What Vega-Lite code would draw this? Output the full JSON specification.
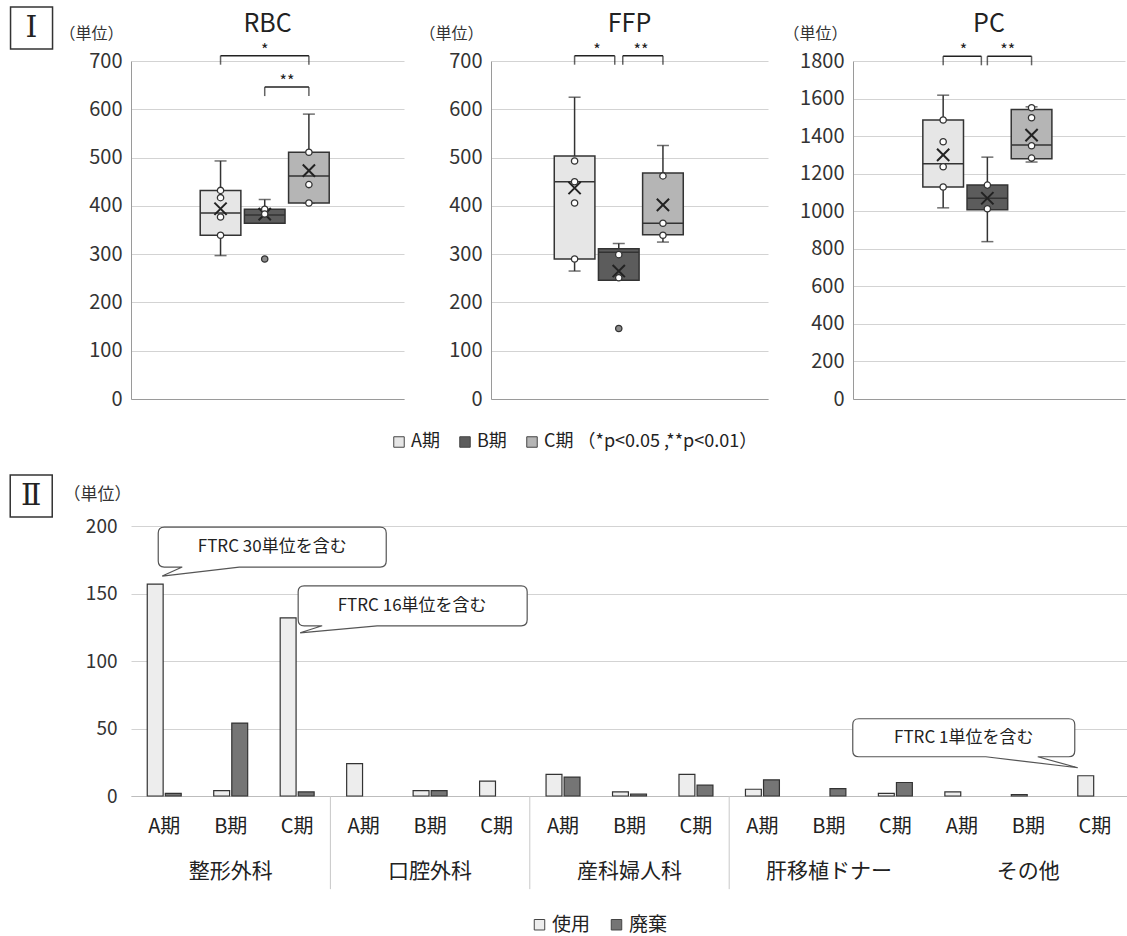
{
  "$schema": "https://vega.github.io/schema/vega-lite/v6.json",
  "padding": {"left": 7, "top": 4, "right": 0, "bottom": 0},
  "background": "white",
  "datasets": {
    "boxes": [
      {"product": "RBC", "period": "A期", "min": 297, "q1": 339, "median": 385, "q3": 432, "max": 493, "mean": 394},
      {"product": "RBC", "period": "B期", "min": 364, "q1": 364, "median": 381, "q3": 393, "max": 413, "mean": 383},
      {"product": "RBC", "period": "C期", "min": 406, "q1": 406, "median": 462, "q3": 511, "max": 590, "mean": 473},
      {"product": "FFP", "period": "A期", "min": 265, "q1": 290, "median": 450, "q3": 503, "max": 625, "mean": 437},
      {"product": "FFP", "period": "B期", "min": 246, "q1": 246, "median": 304, "q3": 311, "max": 322, "mean": 265},
      {"product": "FFP", "period": "C期", "min": 325, "q1": 340, "median": 364, "q3": 468, "max": 525, "mean": 402},
      {"product": "PC", "period": "A期", "min": 1018, "q1": 1129, "median": 1253, "q3": 1486, "max": 1618, "mean": 1300},
      {"product": "PC", "period": "B期", "min": 838, "q1": 1008, "median": 1069, "q3": 1139, "max": 1288, "mean": 1069},
      {"product": "PC", "period": "C期", "min": 1262, "q1": 1279, "median": 1353, "q3": 1542, "max": 1556, "mean": 1405}
    ],
    "points": [
      {"product": "RBC", "period": "A期", "value": 432, "kind": "inner"},
      {"product": "RBC", "period": "A期", "value": 417, "kind": "inner"},
      {"product": "RBC", "period": "A期", "value": 377, "kind": "inner"},
      {"product": "RBC", "period": "A期", "value": 339, "kind": "inner"},
      {"product": "RBC", "period": "B期", "value": 393, "kind": "inner"},
      {"product": "RBC", "period": "B期", "value": 383, "kind": "inner"},
      {"product": "RBC", "period": "B期", "value": 290, "kind": "outlier"},
      {"product": "RBC", "period": "C期", "value": 511, "kind": "inner"},
      {"product": "RBC", "period": "C期", "value": 444, "kind": "inner"},
      {"product": "RBC", "period": "C期", "value": 406, "kind": "inner"},
      {"product": "FFP", "period": "A期", "value": 493, "kind": "inner"},
      {"product": "FFP", "period": "A期", "value": 450, "kind": "inner"},
      {"product": "FFP", "period": "A期", "value": 406, "kind": "inner"},
      {"product": "FFP", "period": "A期", "value": 290, "kind": "inner"},
      {"product": "FFP", "period": "B期", "value": 299, "kind": "inner"},
      {"product": "FFP", "period": "B期", "value": 251, "kind": "inner"},
      {"product": "FFP", "period": "B期", "value": 146, "kind": "outlier"},
      {"product": "FFP", "period": "C期", "value": 462, "kind": "inner"},
      {"product": "FFP", "period": "C期", "value": 364, "kind": "inner"},
      {"product": "FFP", "period": "C期", "value": 339, "kind": "inner"},
      {"product": "PC", "period": "A期", "value": 1486, "kind": "inner"},
      {"product": "PC", "period": "A期", "value": 1370, "kind": "inner"},
      {"product": "PC", "period": "A期", "value": 1237, "kind": "inner"},
      {"product": "PC", "period": "A期", "value": 1129, "kind": "inner"},
      {"product": "PC", "period": "B期", "value": 1139, "kind": "inner"},
      {"product": "PC", "period": "B期", "value": 1013, "kind": "inner"},
      {"product": "PC", "period": "C期", "value": 1551, "kind": "inner"},
      {"product": "PC", "period": "C期", "value": 1498, "kind": "inner"},
      {"product": "PC", "period": "C期", "value": 1349, "kind": "inner"},
      {"product": "PC", "period": "C期", "value": 1283, "kind": "inner"}
    ],
    "sig": [
      {"product": "RBC", "from": "A期", "to": "C期", "label": "*", "level": 711},
      {"product": "RBC", "from": "B期", "to": "C期", "label": "**", "level": 646},
      {"product": "FFP", "from": "A期", "to": "B期", "label": "*", "level": 711},
      {"product": "FFP", "from": "B期", "to": "C期", "label": "**", "level": 711},
      {"product": "PC", "from": "A期", "to": "B期", "label": "*", "level": 1825},
      {"product": "PC", "from": "B期", "to": "C期", "label": "**", "level": 1825}
    ],
    "bars": [
      {"dept": "整形外科", "period": "A期", "type": "使用", "value": 157},
      {"dept": "整形外科", "period": "A期", "type": "廃棄", "value": 2},
      {"dept": "整形外科", "period": "B期", "type": "使用", "value": 4},
      {"dept": "整形外科", "period": "B期", "type": "廃棄", "value": 54},
      {"dept": "整形外科", "period": "C期", "type": "使用", "value": 132},
      {"dept": "整形外科", "period": "C期", "type": "廃棄", "value": 3},
      {"dept": "口腔外科", "period": "A期", "type": "使用", "value": 24},
      {"dept": "口腔外科", "period": "A期", "type": "廃棄", "value": 0},
      {"dept": "口腔外科", "period": "B期", "type": "使用", "value": 4},
      {"dept": "口腔外科", "period": "B期", "type": "廃棄", "value": 4},
      {"dept": "口腔外科", "period": "C期", "type": "使用", "value": 11},
      {"dept": "口腔外科", "period": "C期", "type": "廃棄", "value": 0},
      {"dept": "産科婦人科", "period": "A期", "type": "使用", "value": 16},
      {"dept": "産科婦人科", "period": "A期", "type": "廃棄", "value": 14},
      {"dept": "産科婦人科", "period": "B期", "type": "使用", "value": 3},
      {"dept": "産科婦人科", "period": "B期", "type": "廃棄", "value": 1.5},
      {"dept": "産科婦人科", "period": "C期", "type": "使用", "value": 16},
      {"dept": "産科婦人科", "period": "C期", "type": "廃棄", "value": 8},
      {"dept": "肝移植ドナー", "period": "A期", "type": "使用", "value": 5},
      {"dept": "肝移植ドナー", "period": "A期", "type": "廃棄", "value": 12},
      {"dept": "肝移植ドナー", "period": "B期", "type": "使用", "value": 0},
      {"dept": "肝移植ドナー", "period": "B期", "type": "廃棄", "value": 5.5},
      {"dept": "肝移植ドナー", "period": "C期", "type": "使用", "value": 2},
      {"dept": "肝移植ドナー", "period": "C期", "type": "廃棄", "value": 10},
      {"dept": "その他", "period": "A期", "type": "使用", "value": 3},
      {"dept": "その他", "period": "A期", "type": "廃棄", "value": 0},
      {"dept": "その他", "period": "B期", "type": "使用", "value": 1},
      {"dept": "その他", "period": "B期", "type": "廃棄", "value": 0},
      {"dept": "その他", "period": "C期", "type": "使用", "value": 15},
      {"dept": "その他", "period": "C期", "type": "廃棄", "value": 0}
    ],
    "callouts": [
      {"dept": "整形外科", "period": "A期", "value": 157, "note": "FTRC 30単位を含む"},
      {"dept": "整形外科", "period": "C期", "value": 132, "note": "FTRC 16単位を含む"},
      {"dept": "その他", "period": "C期", "value": 15, "note": "FTRC 1単位を含む"}
    ]
  },
  "vconcat": [
    {
      "hconcat": [
        {
          "width": 273, "height": 338,
          "title": {"text": "RBC", "fontSize": 25, "frame": "group", "offset": -33, "anchor": "middle"},
          "layer": [
            {"data": {"name": "boxes"}, "transform": [{"filter": "datum.product == 'RBC'"}],
             "mark": {"type": "rule", "stroke": "#333", "strokeWidth": 1.5},
             "encoding": {
               "x": {"field": "period", "type": "nominal", "scale": {"domain": ["_l", "A期", "B期", "C期", "_r"], "paddingInner": 0.08, "paddingOuter": 0.63, "align": 0.45}, "axis": {"labels": false, "title": null, "grid": false, "domain": true}},
               "y": {"field": "min", "type": "quantitative", "scale": {"domain": [0, 700], "nice": false}, "axis": {"values": [0, 100, 200, 300, 400, 500, 600, 700], "tickCount": 20, "format": "d", "labelOverlap": false, "title": "（単位）", "titleAngle": 0, "titleAlign": "right", "titleBaseline": "alphabetic", "titleX": -8, "titleY": -23}},
               "y2": {"field": "max"}}},
            {"data": {"name": "boxes"}, "transform": [{"filter": "datum.product == 'RBC'"}, {"fold": ["min", "max"], "as": ["stat", "val"]}],
             "mark": {"type": "tick", "orient": "horizontal", "size": 12, "thickness": 1.5, "color": "#333"},
             "encoding": {"x": {"field": "period", "type": "nominal"}, "y": {"field": "val", "type": "quantitative"}}},
            {"data": {"name": "boxes"}, "transform": [{"filter": "datum.product == 'RBC'"}],
             "mark": {"type": "bar", "stroke": "#333", "strokeWidth": 1.5},
             "encoding": {"x": {"field": "period", "type": "nominal"}, "y": {"field": "q1", "type": "quantitative"}, "y2": {"field": "q3"},
               "fill": {"field": "period", "type": "nominal", "scale": {"domain": ["A期", "B期", "C期"], "range": ["#e6e6e6", "#5c5c5c", "#b5b5b5"]},
                 "legend": {"orient": "none", "legendX": 259, "legendY": 372, "direction": "horizontal", "title": null, "labelExpr": "datum.label == 'C期' ? 'C期 （*p<0.05 ,**p<0.01）' : datum.label"}}}},
            {"data": {"name": "boxes"}, "transform": [{"filter": "datum.product == 'RBC'"}],
             "mark": {"type": "bar", "fill": "transparent", "stroke": "#333", "strokeWidth": 1.5},
             "encoding": {"x": {"field": "period", "type": "nominal"}, "y": {"field": "median", "type": "quantitative"}, "y2": {"field": "median"}}},
            {"data": {"name": "boxes"}, "transform": [{"filter": "datum.product == 'RBC'"}],
             "mark": {"type": "point", "shape": "M-1,-1L1,1M-1,1L1,-1", "size": 150, "filled": false, "stroke": "#222", "strokeWidth": 2, "opacity": 1},
             "encoding": {"x": {"field": "period", "type": "nominal"}, "y": {"field": "mean", "type": "quantitative"}}},
            {"data": {"name": "points"}, "transform": [{"filter": "datum.product == 'RBC'"}],
             "mark": {"type": "point", "shape": "circle", "size": 40, "filled": true, "stroke": "#333", "strokeWidth": 1.3, "opacity": 1},
             "encoding": {"x": {"field": "period", "type": "nominal"}, "y": {"field": "value", "type": "quantitative"},
               "fill": {"condition": {"test": "datum.kind == 'outlier'", "value": "#8c8c8c"}, "value": "#ffffff"}}},
            {"data": {"name": "sig"}, "transform": [{"filter": "datum.product == 'RBC' && datum.to != 'B期'"}],
             "mark": {"type": "rule", "stroke": "#222", "strokeWidth": 1.5},
             "encoding": {"x": {"field": "from", "type": "nominal"}, "x2": {"field": "to"}, "y": {"field": "level", "type": "quantitative"}}},
            {"data": {"name": "sig"}, "transform": [{"filter": "datum.product == 'RBC'"}, {"fold": ["from", "to"], "as": ["end", "cat"]}, {"filter": "!(datum.end == 'to' && datum.cat == 'B期')"}],
             "mark": {"type": "tick", "orient": "vertical", "size": 9, "thickness": 1.5, "color": "#222", "yOffset": 4.5},
             "encoding": {"x": {"field": "cat", "type": "nominal"}, "y": {"field": "level", "type": "quantitative"}}},
            {"data": {"name": "sig"}, "transform": [{"filter": "datum.product == 'RBC' && datum.from == 'A期' && datum.to == 'C期'"}],
             "mark": {"type": "text", "fontSize": 16, "fill": "#222", "baseline": "alphabetic"},
             "encoding": {"x": {"datum": "B期", "type": "nominal"}, "y": {"field": "level", "type": "quantitative"}, "text": {"field": "label"}}},
            {"data": {"name": "sig"}, "transform": [{"filter": "datum.product == 'RBC' && !(datum.from == 'A期' && datum.to == 'C期')"}],
             "mark": {"type": "text", "fontSize": 16, "fill": "#222", "baseline": "alphabetic", "dx": 2},
             "encoding": {"x": {"field": "from", "type": "nominal", "bandPosition": 1}, "y": {"field": "level", "type": "quantitative"}, "text": {"field": "label"}}},
            {"data": {"values": [{"t": "Ⅰ"}]},
             "mark": {"type": "point", "shape": "M-210,-54 L-168,-54 L-168,-12 L-210,-12 Z", "size": 4, "filled": false, "stroke": "#333", "strokeWidth": 1.5, "opacity": 1},
             "encoding": {"x": {"datum": "A期", "type": "nominal"}, "y": {"datum": 700, "type": "quantitative"}}},
            {"data": {"values": [{"t": "Ⅰ"}]},
             "mark": {"type": "text", "font": "DejaVu Serif, Noto Sans CJK JP", "fontSize": 30, "dx": -189, "dy": -33, "baseline": "middle", "align": "center", "fill": "#222"},
             "encoding": {"x": {"datum": "A期", "type": "nominal"}, "y": {"datum": 700, "type": "quantitative"}, "text": {"field": "t"}}}
          ]
        },
        {
          "width": 277, "height": 338,
          "title": {"text": "FFP", "fontSize": 25, "frame": "group", "offset": -12, "anchor": "middle"},
          "layer": [
            {"data": {"name": "boxes"}, "transform": [{"filter": "datum.product == 'FFP'"}],
             "mark": {"type": "rule", "stroke": "#333", "strokeWidth": 1.5},
             "encoding": {
               "x": {"field": "period", "type": "nominal", "scale": {"domain": ["_l", "A期", "B期", "C期", "_r"], "paddingInner": 0.08, "paddingOuter": 0.675, "align": 0.32}, "axis": {"labels": false, "title": null, "grid": false, "domain": true}},
               "y": {"field": "min", "type": "quantitative", "scale": {"domain": [0, 700], "nice": false}, "axis": {"values": [0, 100, 200, 300, 400, 500, 600, 700], "tickCount": 20, "format": "d", "labelOverlap": false, "title": "（単位）", "titleAngle": 0, "titleAlign": "right", "titleBaseline": "alphabetic", "titleX": -8, "titleY": -23}},
               "y2": {"field": "max"}}},
            {"data": {"name": "boxes"}, "transform": [{"filter": "datum.product == 'FFP'"}, {"fold": ["min", "max"], "as": ["stat", "val"]}],
             "mark": {"type": "tick", "orient": "horizontal", "size": 12, "thickness": 1.5, "color": "#333"},
             "encoding": {"x": {"field": "period", "type": "nominal"}, "y": {"field": "val", "type": "quantitative"}}},
            {"data": {"name": "boxes"}, "transform": [{"filter": "datum.product == 'FFP'"}],
             "mark": {"type": "bar", "stroke": "#333", "strokeWidth": 1.5},
             "encoding": {"x": {"field": "period", "type": "nominal"}, "y": {"field": "q1", "type": "quantitative"}, "y2": {"field": "q3"},
               "fill": {"field": "period", "type": "nominal", "scale": {"domain": ["A期", "B期", "C期"], "range": ["#e6e6e6", "#5c5c5c", "#b5b5b5"]}}}},
            {"data": {"name": "boxes"}, "transform": [{"filter": "datum.product == 'FFP'"}],
             "mark": {"type": "bar", "fill": "transparent", "stroke": "#333", "strokeWidth": 1.5},
             "encoding": {"x": {"field": "period", "type": "nominal"}, "y": {"field": "median", "type": "quantitative"}, "y2": {"field": "median"}}},
            {"data": {"name": "boxes"}, "transform": [{"filter": "datum.product == 'FFP'"}],
             "mark": {"type": "point", "shape": "M-1,-1L1,1M-1,1L1,-1", "size": 150, "filled": false, "stroke": "#222", "strokeWidth": 2, "opacity": 1},
             "encoding": {"x": {"field": "period", "type": "nominal"}, "y": {"field": "mean", "type": "quantitative"}}},
            {"data": {"name": "points"}, "transform": [{"filter": "datum.product == 'FFP'"}],
             "mark": {"type": "point", "shape": "circle", "size": 40, "filled": true, "stroke": "#333", "strokeWidth": 1.3, "opacity": 1},
             "encoding": {"x": {"field": "period", "type": "nominal"}, "y": {"field": "value", "type": "quantitative"},
               "fill": {"condition": {"test": "datum.kind == 'outlier'", "value": "#8c8c8c"}, "value": "#ffffff"}}},
            {"data": {"name": "sig"}, "transform": [{"filter": "datum.product == 'FFP' && datum.to != 'B期'"}],
             "mark": {"type": "rule", "stroke": "#222", "strokeWidth": 1.5, "xOffset": 4},
             "encoding": {"x": {"field": "from", "type": "nominal"}, "x2": {"field": "to"}, "y": {"field": "level", "type": "quantitative"}}},
            {"data": {"name": "sig"}, "transform": [{"filter": "datum.product == 'FFP' && datum.to == 'B期'"}],
             "mark": {"type": "rule", "stroke": "#222", "strokeWidth": 1.5, "x2Offset": -4},
             "encoding": {"x": {"field": "from", "type": "nominal"}, "x2": {"field": "to"}, "y": {"field": "level", "type": "quantitative"}}},
            {"data": {"name": "sig"}, "transform": [{"filter": "datum.product == 'FFP' && datum.from == 'A期'"}],
             "mark": {"type": "tick", "orient": "vertical", "size": 9, "thickness": 1.5, "color": "#222", "yOffset": 4.5},
             "encoding": {"x": {"field": "from", "type": "nominal"}, "y": {"field": "level", "type": "quantitative"}}},
            {"data": {"name": "sig"}, "transform": [{"filter": "datum.product == 'FFP' && datum.to == 'B期'"}],
             "mark": {"type": "tick", "orient": "vertical", "size": 9, "thickness": 1.5, "color": "#222", "yOffset": 4.5, "xOffset": -4},
             "encoding": {"x": {"field": "to", "type": "nominal"}, "y": {"field": "level", "type": "quantitative"}}},
            {"data": {"name": "sig"}, "transform": [{"filter": "datum.product == 'FFP' && datum.from == 'B期'"}],
             "mark": {"type": "tick", "orient": "vertical", "size": 9, "thickness": 1.5, "color": "#222", "yOffset": 4.5, "xOffset": 4},
             "encoding": {"x": {"field": "from", "type": "nominal"}, "y": {"field": "level", "type": "quantitative"}}},
            {"data": {"name": "sig"}, "transform": [{"filter": "datum.product == 'FFP' && datum.to == 'C期'"}],
             "mark": {"type": "tick", "orient": "vertical", "size": 9, "thickness": 1.5, "color": "#222", "yOffset": 4.5},
             "encoding": {"x": {"field": "to", "type": "nominal"}, "y": {"field": "level", "type": "quantitative"}}},
            {"data": {"name": "sig"}, "transform": [{"filter": "datum.product == 'FFP'"}],
             "mark": {"type": "text", "fontSize": 16, "fill": "#222", "baseline": "alphabetic", "dx": 2},
             "encoding": {"x": {"field": "from", "type": "nominal", "bandPosition": 1}, "y": {"field": "level", "type": "quantitative"}, "text": {"field": "label"}}}
          ]
        },
        {
          "width": 272, "height": 338,
          "title": {"text": "PC", "fontSize": 25, "frame": "group", "offset": -12, "anchor": "middle"},
          "layer": [
            {"data": {"name": "boxes"}, "transform": [{"filter": "datum.product == 'PC'"}],
             "mark": {"type": "rule", "stroke": "#333", "strokeWidth": 1.5},
             "encoding": {
               "x": {"field": "period", "type": "nominal", "scale": {"domain": ["_l", "A期", "B期", "C期", "_r"], "paddingInner": 0.08, "paddingOuter": 0.617, "align": 0.47}, "axis": {"labels": false, "title": null, "grid": false, "domain": true}},
               "y": {"field": "min", "type": "quantitative", "scale": {"domain": [0, 1800], "nice": false}, "axis": {"values": [0, 200, 400, 600, 800, 1000, 1200, 1400, 1600, 1800], "tickCount": 20, "format": "d", "labelOverlap": false, "title": "（単位）", "titleAngle": 0, "titleAlign": "right", "titleBaseline": "alphabetic", "titleX": -6, "titleY": -23}},
               "y2": {"field": "max"}}},
            {"data": {"name": "boxes"}, "transform": [{"filter": "datum.product == 'PC'"}, {"fold": ["min", "max"], "as": ["stat", "val"]}],
             "mark": {"type": "tick", "orient": "horizontal", "size": 12, "thickness": 1.5, "color": "#333"},
             "encoding": {"x": {"field": "period", "type": "nominal"}, "y": {"field": "val", "type": "quantitative"}}},
            {"data": {"name": "boxes"}, "transform": [{"filter": "datum.product == 'PC'"}],
             "mark": {"type": "bar", "stroke": "#333", "strokeWidth": 1.5},
             "encoding": {"x": {"field": "period", "type": "nominal"}, "y": {"field": "q1", "type": "quantitative"}, "y2": {"field": "q3"},
               "fill": {"field": "period", "type": "nominal", "scale": {"domain": ["A期", "B期", "C期"], "range": ["#e6e6e6", "#5c5c5c", "#b5b5b5"]}}}},
            {"data": {"name": "boxes"}, "transform": [{"filter": "datum.product == 'PC'"}],
             "mark": {"type": "bar", "fill": "transparent", "stroke": "#333", "strokeWidth": 1.5},
             "encoding": {"x": {"field": "period", "type": "nominal"}, "y": {"field": "median", "type": "quantitative"}, "y2": {"field": "median"}}},
            {"data": {"name": "boxes"}, "transform": [{"filter": "datum.product == 'PC'"}],
             "mark": {"type": "point", "shape": "M-1,-1L1,1M-1,1L1,-1", "size": 150, "filled": false, "stroke": "#222", "strokeWidth": 2, "opacity": 1},
             "encoding": {"x": {"field": "period", "type": "nominal"}, "y": {"field": "mean", "type": "quantitative"}}},
            {"data": {"name": "points"}, "transform": [{"filter": "datum.product == 'PC'"}],
             "mark": {"type": "point", "shape": "circle", "size": 40, "filled": true, "stroke": "#333", "strokeWidth": 1.3, "opacity": 1},
             "encoding": {"x": {"field": "period", "type": "nominal"}, "y": {"field": "value", "type": "quantitative"},
               "fill": {"condition": {"test": "datum.kind == 'outlier'", "value": "#8c8c8c"}, "value": "#ffffff"}}},
            {"data": {"name": "sig"}, "transform": [{"filter": "datum.product == 'PC' && datum.to != 'B期'"}],
             "mark": {"type": "rule", "stroke": "#222", "strokeWidth": 1.5},
             "encoding": {"x": {"field": "from", "type": "nominal"}, "x2": {"field": "to"}, "y": {"field": "level", "type": "quantitative"}}},
            {"data": {"name": "sig"}, "transform": [{"filter": "datum.product == 'PC' && datum.to == 'B期'"}],
             "mark": {"type": "rule", "stroke": "#222", "strokeWidth": 1.5, "x2Offset": -6},
             "encoding": {"x": {"field": "from", "type": "nominal"}, "x2": {"field": "to"}, "y": {"field": "level", "type": "quantitative"}}},
            {"data": {"name": "sig"}, "transform": [{"filter": "datum.product == 'PC'"}, {"fold": ["from", "to"], "as": ["end", "cat"]}, {"filter": "!(datum.end == 'to' && datum.cat == 'B期')"}],
             "mark": {"type": "tick", "orient": "vertical", "size": 9, "thickness": 1.5, "color": "#222", "yOffset": 4.5},
             "encoding": {"x": {"field": "cat", "type": "nominal"}, "y": {"field": "level", "type": "quantitative"}}},
            {"data": {"name": "sig"}, "transform": [{"filter": "datum.product == 'PC' && datum.to == 'B期'"}],
             "mark": {"type": "tick", "orient": "vertical", "size": 9, "thickness": 1.5, "color": "#222", "yOffset": 4.5, "xOffset": -6},
             "encoding": {"x": {"field": "to", "type": "nominal"}, "y": {"field": "level", "type": "quantitative"}}},
            {"data": {"name": "sig"}, "transform": [{"filter": "datum.product == 'PC'"}],
             "mark": {"type": "text", "fontSize": 16, "fill": "#222", "baseline": "alphabetic", "dx": 0},
             "encoding": {"x": {"field": "from", "type": "nominal", "bandPosition": 1}, "y": {"field": "level", "type": "quantitative"}, "text": {"field": "label"}}}
          ]
        }
      ],
      "spacing": 14
    },
    {
      "width": 997, "height": 270,
      "layer": [
        {"data": {"name": "bars"}, "transform": [{"filter": "datum.value > 0"}, {"calculate": "datum.dept + '|' + datum.period", "as": "key"}],
         "mark": {"type": "bar", "stroke": "#333", "strokeWidth": 1.2},
         "encoding": {
           "x": {"field": "key", "type": "nominal",
             "scale": {"domain": ["整形外科|A期", "整形外科|B期", "整形外科|C期", "口腔外科|A期", "口腔外科|B期", "口腔外科|C期", "産科婦人科|A期", "産科婦人科|B期", "産科婦人科|C期", "肝移植ドナー|A期", "肝移植ドナー|B期", "肝移植ドナー|C期", "その他|A期", "その他|B期", "その他|C期"], "paddingInner": 0, "paddingOuter": 0},
             "axis": {"title": null, "grid": false, "domain": true, "domainColor": "#bdbdbd",
               "labelExpr": "split(datum.value, '|')[1]",
               "labelAngle": 0, "labelFontSize": 20, "labelPadding": 20, "labelBaseline": "top", "labelColor": "#222"}},
           "xOffset": {"field": "type", "type": "nominal", "scale": {"domain": ["使用", "廃棄"], "paddingInner": 0.12, "paddingOuter": 0.9}},
           "y": {"field": "value", "type": "quantitative", "scale": {"domain": [0, 200], "nice": false},
             "axis": {"values": [0, 50, 100, 150, 200], "tickCount": 20, "format": "d", "title": "（単位）", "titleAngle": 0, "titleAlign": "right", "titleBaseline": "alphabetic", "titleX": 0, "titleY": -27, "titleFontSize": 17, "labelFontSize": 19, "labelPadding": 14, "domain": false, "grid": true}},
           "fill": {"field": "type", "type": "nominal", "scale": {"domain": ["使用", "廃棄"], "range": ["#ededed", "#757575"]},
             "legend": {"orient": "none", "legendX": 399, "legendY": 389, "direction": "horizontal", "title": null, "labelFontSize": 19}}}},
        {"data": {"name": "bars"}, "transform": [{"filter": "datum.period == 'A期' && datum.type == '使用' && datum.dept != '整形外科' && datum.dept != 'その他'"}, {"calculate": "datum.dept + '|' + datum.period", "as": "key"}],
         "mark": {"type": "rule", "stroke": "#c8c8c8", "strokeWidth": 1},
         "encoding": {"x": {"field": "key", "type": "nominal", "bandPosition": 0}, "y": {"datum": 0, "type": "quantitative"}, "y2": {"datum": -69}}},
        {"data": {"name": "bars"}, "transform": [{"filter": "datum.period == 'B期' && datum.type == '使用'"}, {"calculate": "datum.dept + '|' + datum.period", "as": "key"}],
         "mark": {"type": "text", "fontSize": 21, "fill": "#222", "baseline": "middle", "dy": 76},
         "encoding": {"x": {"field": "key", "type": "nominal"}, "y": {"datum": 0, "type": "quantitative"}, "text": {"field": "dept"}}},
        {"data": {"name": "callouts"}, "transform": [{"calculate": "datum.dept + '|' + datum.period", "as": "key"}, {"filter": "datum.note == 'FTRC 30単位を含む'"}],
         "mark": {"type": "point", "shape": "M-2,-8 L18,-17 L0,-17 Q-6,-17 -6,-23 L-6,-51 Q-6,-57 0,-57 L216,-57 Q222,-57 222,-51 L222,-23 Q222,-17 216,-17 L75,-17 Z", "size": 4, "filled": true, "fill": "#ffffff", "stroke": "#555", "strokeWidth": 1.2, "opacity": 1},
         "encoding": {"x": {"field": "key", "type": "nominal"}, "y": {"field": "value", "type": "quantitative"}}},
        {"data": {"name": "callouts"}, "transform": [{"calculate": "datum.dept + '|' + datum.period", "as": "key"}, {"filter": "datum.note == 'FTRC 30単位を含む'"}],
         "mark": {"type": "text", "fontSize": 17, "fill": "#222", "align": "center", "baseline": "middle", "dx": 108, "dy": -37},
         "encoding": {"x": {"field": "key", "type": "nominal"}, "y": {"field": "value", "type": "quantitative"}, "text": {"field": "note"}}},
        {"data": {"name": "callouts"}, "transform": [{"calculate": "datum.dept + '|' + datum.period", "as": "key"}, {"filter": "datum.note == 'FTRC 16単位を含む'"}],
         "mark": {"type": "point", "shape": "M3,15 L25,8 L7,8 Q1,8 1,2 L1,-26 Q1,-32 7,-32 L224,-32 Q230,-32 230,-26 L230,2 Q230,8 224,8 L80,8 Z", "size": 4, "filled": true, "fill": "#ffffff", "stroke": "#555", "strokeWidth": 1.2, "opacity": 1},
         "encoding": {"x": {"field": "key", "type": "nominal"}, "y": {"field": "value", "type": "quantitative"}}},
        {"data": {"name": "callouts"}, "transform": [{"calculate": "datum.dept + '|' + datum.period", "as": "key"}, {"filter": "datum.note == 'FTRC 16単位を含む'"}],
         "mark": {"type": "text", "fontSize": 17, "fill": "#222", "align": "center", "baseline": "middle", "dx": 115, "dy": -12},
         "encoding": {"x": {"field": "key", "type": "nominal"}, "y": {"field": "value", "type": "quantitative"}, "text": {"field": "note"}}},
        {"data": {"name": "callouts"}, "transform": [{"calculate": "datum.dept + '|' + datum.period", "as": "key"}, {"filter": "datum.note == 'FTRC 1単位を含む'"}],
         "mark": {"type": "point", "shape": "M-17,-8 L-57,-19 L-26,-19 Q-20,-19 -20,-25 L-20,-51 Q-20,-57 -26,-57 L-236,-57 Q-242,-57 -242,-51 L-242,-25 Q-242,-19 -236,-19 L-109,-19 Z", "size": 4, "filled": true, "fill": "#ffffff", "stroke": "#555", "strokeWidth": 1.2, "opacity": 1},
         "encoding": {"x": {"field": "key", "type": "nominal"}, "y": {"field": "value", "type": "quantitative"}}},
        {"data": {"name": "callouts"}, "transform": [{"calculate": "datum.dept + '|' + datum.period", "as": "key"}, {"filter": "datum.note == 'FTRC 1単位を含む'"}],
         "mark": {"type": "text", "fontSize": 17, "fill": "#222", "align": "center", "baseline": "middle", "dx": -131, "dy": -38},
         "encoding": {"x": {"field": "key", "type": "nominal"}, "y": {"field": "value", "type": "quantitative"}, "text": {"field": "note"}}},
        {"data": {"values": [{"t": "Ⅱ"}]},
         "mark": {"type": "point", "shape": "M-154,-51 L-112,-51 L-112,-9 L-154,-9 Z", "size": 4, "filled": false, "stroke": "#333", "strokeWidth": 1.5, "opacity": 1},
         "encoding": {"x": {"datum": "整形外科|A期", "type": "nominal"}, "y": {"datum": 200, "type": "quantitative"}}},
        {"data": {"values": [{"t": "Ⅱ"}]},
         "mark": {"type": "text", "font": "DejaVu Serif, Noto Sans CJK JP", "fontSize": 30, "dx": -133, "dy": -30, "baseline": "middle", "align": "center", "fill": "#222"},
         "encoding": {"x": {"datum": "整形外科|A期", "type": "nominal"}, "y": {"datum": 200, "type": "quantitative"}, "text": {"field": "t"}}}
      ]
    }
  ],
  "spacing": 21,
  "resolve": {"scale": {"fill": "independent"}, "legend": {"fill": "independent"}},
  "config": {
    "view": {"stroke": null},
    "font": "Noto Sans CJK JP",
    "title": {"font": "Noto Sans CJK JP", "fontWeight": "normal", "color": "#222"},
    "text": {"font": "Noto Sans CJK JP"},
    "axis": {"labelFont": "Noto Sans CJK JP", "titleFont": "Noto Sans CJK JP", "labelColor": "#333", "titleColor": "#333", "titleFontWeight": "normal", "titleFontSize": 16, "labelFontSize": 20, "labelPadding": 9, "gridColor": "#d3d3d3", "domainColor": "#9a9a9a", "ticks": false},
    "legend": {"labelFont": "Noto Sans CJK JP", "labelFontSize": 18, "labelColor": "#222", "symbolType": "square", "symbolStrokeColor": "#444", "symbolStrokeWidth": 1, "symbolSize": 110, "symbolOpacity": 1, "columnPadding": 16, "labelOffset": 3, "padding": 0, "labelLimit": 500}
  }
}
